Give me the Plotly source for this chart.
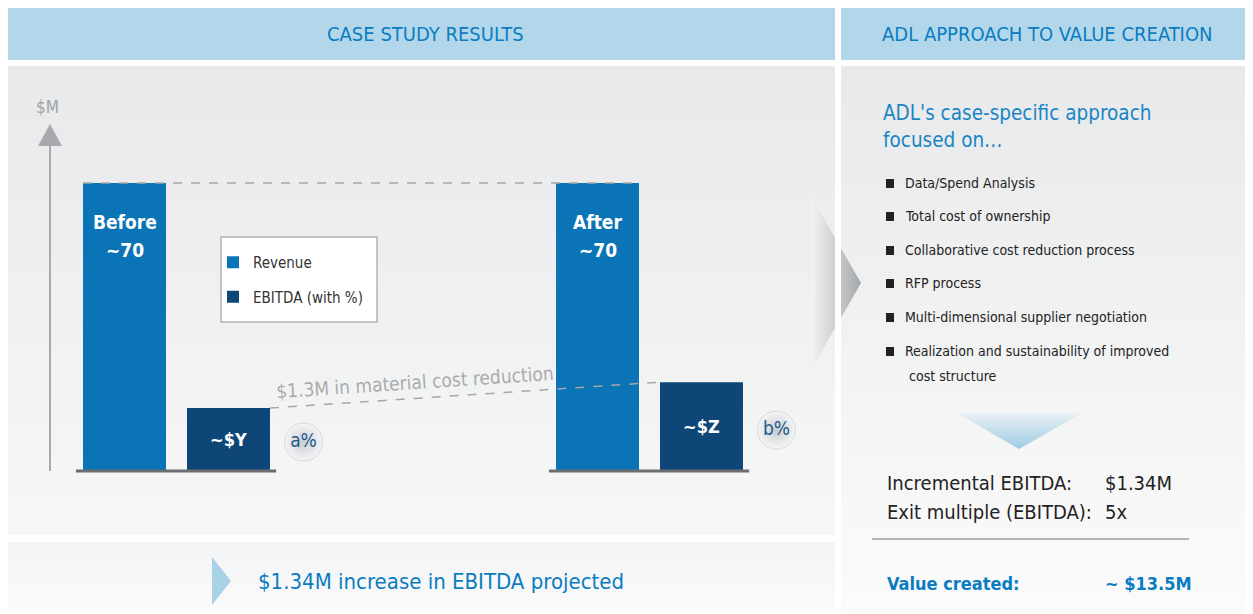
import plotly.graph_objects as go

# ---------------- data ----------------
periods = ["Before", "After"]
revenue = [70, 70]
revenue_labels = ["~70", "~70"]
ebitda = [15.3, 21.6]
ebitda_labels = ["~$Y", "~$Z"]
margin_labels = ["a%", "b%"]
series_names = ["Revenue", "EBITDA (with %)"]
approach_items = [
    "Data/Spend Analysis",
    "Total cost of ownership",
    "Collaborative cost reduction process",
    "RFP process",
    "Multi-dimensional supplier negotiation",
    "Realization and sustainability of improved<br> cost structure",
]
value_rows = [("Incremental EBITDA:", "$1.34M"), ("Exit multiple (EBITDA):", "5x")]
value_total = ("Value created:", "~ $13.5M")
reduction_note = "$1.3M in material cost reduction"
bottom_note = "$1.34M increase in EBITDA projected"

# ---------------- style / geometry ----------------
PAGE_W, PAGE_H = 1253, 614
OFF = 8  # page margin
FW, FH = PAGE_W - OFF, PAGE_H - OFF
NARROW = "Liberation Sans Narrow, DejaVu Sans Condensed, Roboto, sans-serif"
BLUE_T = "#0a7cc1"
HEAD_BG = "#b3d7ea"
REV_C = "#0a74b6"
EB_C = "#0e4777"

bargap = 0.5603
bargroupgap = 0.202
cat_px = 473.0
x0_px = 176.5
base_px = 471.0
y_k = 288 / 70
x2_rng = [(OFF - x0_px) / cat_px, (PAGE_W - x0_px) / cat_px]
y2_rng = [-(PAGE_H - base_px) / y_k, (base_px - OFF) / y_k]

fig = go.Figure()


def poly(xs, ys, c0, c1, gtype="vertical", start=None, stop=None):
    fg = dict(type=gtype, colorscale=[[0, c0], [1, c1]])
    if start is not None:
        fg["start"] = start
        fg["stop"] = stop
    fig.add_trace(go.Scatter(
        x=list(xs) + [xs[0]], y=list(ys) + [ys[0]], mode="lines", fill="toself",
        line=dict(width=0), fillgradient=fg, hoverinfo="skip", showlegend=False,
        xaxis="x", yaxis="y"))


# backgrounds
poly([8, 835, 835, 8], [66, 66, 535, 535], "#e8e9ea", "#f6f7f7", start=66, stop=535)
poly([8, 835, 835, 8], [542, 542, 608, 608], "#f3f4f5", "#fafafb", start=542, stop=608)
poly([841, 1253, 1253, 841], [66, 66, 614, 614], "#e8e9ea", "#fbfbfb", start=66, stop=614)
# big chevron
poly([812, 861, 812], [198, 283, 368], "#f1f2f3", "#a4a7aa", gtype="horizontal", start=812, stop=861)
# down triangle
poly([957, 1082, 1019], [413, 413, 449], "#eaf1f5", "#9ccbe3", start=413, stop=449)

shapes = []
shapes.append(dict(type="rect", xref="x", yref="y", x0=8, x1=835, y0=8, y1=60, fillcolor=HEAD_BG, line_width=0, layer="below"))
shapes.append(dict(type="rect", xref="x", yref="y", x0=841, x1=PAGE_W, y0=8, y1=60, fillcolor=HEAD_BG, line_width=0, layer="below"))
shapes.append(dict(type="rect", xref="x", yref="y", x0=835, x1=841, y0=66, y1=PAGE_H, fillcolor="white", line_width=0))
shapes.append(dict(type="path", xref="x", yref="y", path="M212,557 L231,581 L212,605 Z", fillcolor="#a9d2e7", line_width=0))
# value axis arrow
shapes.append(dict(type="line", xref="x", yref="y", x0=50, x1=50, y0=471, y1=140, line=dict(color="#a7a9ac", width=2)))
shapes.append(dict(type="path", xref="x", yref="y", path="M38,146 L50,124 L62,146 Z", fillcolor="#a7a9ac", line_width=0))
# legend box
shapes.append(dict(type="rect", xref="x", yref="y", x0=221, x1=377, y0=237, y1=322, fillcolor="white", line=dict(color="#b0b2b5", width=1.5)))
bullet_y = [183, 216, 250, 283, 317, 351]
for by in bullet_y:
    shapes.append(dict(type="rect", xref="x", yref="y", x0=886, x1=894, y0=by - 4, y1=by + 5, fillcolor="#222", line_width=0))
shapes.append(dict(type="line", xref="x", yref="y", x0=872, x1=1189, y0=539, y1=539, line=dict(color="#b5b6b9", width=2)))

# bar geometry in data units
slot_u = (1 - bargap) / 2
barw_u = slot_u * (1 - bargroupgap)
xs = list(range(len(periods)))
rev_x = [i - slot_u / 2 for i in xs]
eb_x = [i + slot_u / 2 for i in xs]

for i in xs:
    shapes.append(dict(type="line", xref="x2", yref="y2",
                       x0=rev_x[i] - barw_u / 2 - 0.015, x1=eb_x[i] + barw_u / 2 + 0.013,
                       y0=0, y1=0, line=dict(color="#6d6e71", width=3)))
shapes.append(dict(type="line", xref="x2", yref="y2", x0=rev_x[0] - barw_u / 2, x1=rev_x[1] + barw_u / 2,
                   y0=revenue[0], y1=revenue[1], line=dict(color="#a5a7aa", width=1.5, dash="dash")))
shapes.append(dict(type="line", xref="x2", yref="y2", x0=eb_x[0] + barw_u / 2, x1=eb_x[1] - barw_u / 2,
                   y0=ebitda[0], y1=ebitda[1], line=dict(color="#a5a7aa", width=1.5, dash="dash")))

fig.add_trace(go.Bar(x=xs, y=revenue, name=series_names[0], legendgroup="rev",
                     marker=dict(color=REV_C, line_width=0), xaxis="x2", yaxis="y2", hoverinfo="skip"))
fig.add_trace(go.Bar(x=xs, y=ebitda, name=series_names[1], legendgroup="eb",
                     marker=dict(color=EB_C, line_width=0),
                     text=ebitda_labels, textposition="inside", insidetextanchor="middle",
                     textfont=dict(family=NARROW, size=18, color="white", weight="bold"),
                     xaxis="x2", yaxis="y2", hoverinfo="skip"))
circ_off = 127 / cat_px
fig.add_trace(go.Scatter(x=[i + circ_off for i in xs], y=[e * 0.46 for e in ebitda], mode="markers+text",
                         text=margin_labels, textposition="middle center",
                         textfont=dict(family=NARROW, size=19, color="#1d5a8f"),
                         marker=dict(size=38, color="#f4f5f6", gradient=dict(type="radial", color="#c9ccd0"),
                                     line=dict(width=1, color="#d6d8db")),
                         xaxis="x2", yaxis="y2", showlegend=False, hoverinfo="skip"))

ann = []
for i in xs:
    ann.append(dict(xref="x2", yref="y2", x=rev_x[i], y=revenue[i], yanchor="middle", yshift=-39,
                    text=f"<b>{periods[i]}</b>", showarrow=False,
                    font=dict(family=NARROW, size=19, color="white")))
    ann.append(dict(xref="x2", yref="y2", x=rev_x[i], y=revenue[i], yanchor="middle", yshift=-67,
                    text=f"<b>{revenue_labels[i]}</b>", showarrow=False,
                    font=dict(family=NARROW, size=19, color="white")))


def t(x, y, s, size, color, family=NARROW, xanchor="left", **kw):
    ann.append(dict(xref="x", yref="y", x=x, y=y, text=s, showarrow=False, xanchor=xanchor,
                    yanchor="middle", font=dict(family=family, size=size, color=color), **kw))


t(425, 34, "CASE STUDY RESULTS", 20, BLUE_T, xanchor="center")
t(1047, 34, "ADL APPROACH TO VALUE CREATION", 20, BLUE_T, xanchor="center")
t(47, 107, "$M", 17, "#a0a3a6", xanchor="center")
t(415, 382, reduction_note, 19, "#a9abae", xanchor="center", textangle=-3.8)
t(256, 581, bottom_note, 22, BLUE_T)
t(881, 126, "ADL's case-specific approach<br>focused on…", 20.5, "#1a85c6", align="left")
for k, item in enumerate(approach_items):
    for j, line in enumerate(item.split("<br>")):
        t(903, bullet_y[k] + 25 * j, line.replace(" ", "&nbsp;", 1) if j else line, 14, "#222")
for k, (lab, val) in enumerate(value_rows):
    t(885, 483 + 29 * k, lab, 20, "#222")
    t(1103, 483 + 29 * k, val, 20, "#222")
t(885, 583, f"<b>{value_total[0]}</b>", 18, BLUE_T)
t(1103, 583, f"<b>{value_total[1]}</b>", 18, BLUE_T)

fig.update_layout(
    width=FW, height=FH, margin=dict(l=0, r=0, t=0, b=0),
    paper_bgcolor="white", plot_bgcolor="rgba(0,0,0,0)",
    barmode="group", bargap=bargap, bargroupgap=bargroupgap,
    xaxis=dict(range=[OFF, PAGE_W], visible=False, fixedrange=True),
    yaxis=dict(range=[PAGE_H, OFF], visible=False, fixedrange=True),
    xaxis2=dict(range=x2_rng, overlaying="x", visible=False, fixedrange=True),
    yaxis2=dict(range=y2_rng, overlaying="y", visible=False, fixedrange=True),
    shapes=shapes, annotations=ann,
    legend=dict(x=(213 - OFF) / FW, y=1 - (246 - OFF) / FH, xanchor="left", yanchor="top",
                bgcolor="rgba(0,0,0,0)", font=dict(family=NARROW, size=15, color="#333"),
                tracegroupgap=12, itemwidth=30),
    showlegend=True,
)
fig.write_html("out.html")
